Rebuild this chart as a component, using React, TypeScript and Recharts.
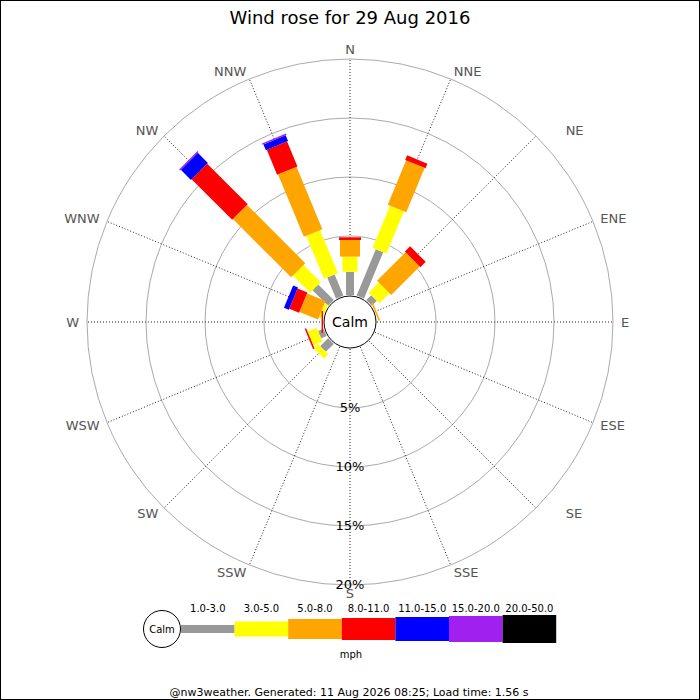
import React from 'react';
import {
  RadialBarChart,
  RadialBar,
  PolarAngleAxis,
  PolarRadiusAxis,
  PolarGrid,
  Customized,
} from 'recharts';

const directions = ['N', 'NNE', 'NE', 'ENE', 'E', 'ESE', 'SE', 'SSE', 'S', 'SSW', 'SW', 'WSW', 'W', 'WNW', 'NW', 'NNW'];
const speedBands = ['1.0-3.0', '3.0-5.0', '5.0-8.0', '8.0-11.0', '11.0-15.0', '15.0-20.0', '20.0-50.0'];
const bandColors = ['#999999', '#ffff00', '#ffa500', '#ff0000', '#0000ff', '#a020f0', '#000000'];

// % of the day per direction, one array per speed band (mph)
const band1 = [1.97, 4.25, 0.59, 0, 0, 0, 0, 0, 0, 0, 0.95, 0.5, 0, 0, 1.86, 1.94];
const band2 = [1.28, 3.87, 1.21, 0, 0, 0, 0, 0, 0, 0, 0.5, 0.85, 0, 0.3, 2.06, 3.94];
const band3 = [1.41, 4.07, 3.42, 0.12, 0, 0, 0, 0, 0, 0, 0, 0, 0, 1.7, 6.98, 5.72];
const band4 = [0.23, 0.42, 0.63, 0, 0, 0, 0, 0, 0, 0, 0, 0.13, 0.12, 0.9, 4.86, 2.29];
const band5 = [0, 0, 0, 0, 0, 0, 0, 0, 0, 0, 0, 0, 0, 0.45, 1.21, 0.53];
const band6 = [0, 0, 0, 0, 0, 0, 0, 0, 0, 0, 0, 0, 0, 0, 0.12, 0.12];
const band7 = [0, 0, 0, 0, 0, 0, 0, 0, 0, 0, 0, 0, 0, 0, 0, 0];

const radiusTicks = [5, 10, 15, 20];

const bands = [band1, band2, band3, band4, band5, band6, band7];
const barWidths = [8, 15, 20, 22, 24, 26, 28];

const CX = 350;
const CY = 322;
const INNER = 27;
const OUTER = 263;
const FONT = '"DejaVu Sans", sans-serif';

const data = directions.map((dir, i) => {
  const row: Record<string, any> = { dir };
  bands.forEach((b, k) => {
    row[`b${k}`] = b[i];
  });
  return row;
});

// straight bar of fixed width; with no category gap recharts starts each
// sector exactly on the category's tick angle, so that is the direction
const makeShape = (w: number) => (props: any) => {
  const { cx, cy, innerRadius, outerRadius, startAngle, fill } = props;
  if (!(outerRadius - innerRadius > 0.01)) return <g />;
  const a = (startAngle * Math.PI) / 180;
  const ux = Math.cos(a);
  const uy = -Math.sin(a);
  const px = (-uy * w) / 2;
  const py = (ux * w) / 2;
  const pts = [
    [innerRadius, 1],
    [outerRadius, 1],
    [outerRadius, -1],
    [innerRadius, -1],
  ]
    .map(([r, s]) => `${cx + ux * r + s * px},${cy + uy * r + s * py}`)
    .join(' ');
  return <polygon points={pts} fill={fill} />;
};

// the original sits NE / SE a bit further out than the rest
const labelNudge: Record<string, number> = { NE: 24, SE: 24, N: -2 };

const DirTick = (props: any) => {
  const { x, y, payload } = props;
  const dx = x - CX;
  const anchor = Math.abs(dx) < 2 ? 'middle' : dx > 0 ? 'start' : 'end';
  const n = labelNudge[payload.value] || 0;
  const isVertical = payload.value === 'N' || payload.value === 'S';
  return (
    <text
      x={isVertical ? x : x + n}
      y={isVertical ? y + n : y}
      textAnchor={anchor}
      dominantBaseline="central"
      fontSize={13}
      fill="#555"
      fontFamily={FONT}
    >
      {payload.value}
    </text>
  );
};

const RingTick = (props: any) => {
  const { x, y, payload } = props;
  return (
    <text x={x} y={y - 1} textAnchor="middle" dominantBaseline="central" fontSize={13} fill="#000" fontFamily={FONT}>
      {`${payload.value}%`}
    </text>
  );
};

const Calm = () => (
  <g>
    <circle cx={CX} cy={CY} r={INNER - 1} fill="#fff" stroke="#000" strokeWidth={1} />
    <text x={CX} y={CY} textAnchor="middle" dominantBaseline="central" fontSize={14} fontFamily={FONT} fill="#000">
      Calm
    </text>
  </g>
);

const Legend = () => {
  const x0 = 181;
  const step = 53.6;
  const ly = 629;
  return (
    <g fontFamily={FONT}>
      <circle cx={162} cy={ly} r={18.5} fill="#fff" stroke="#000" />
      <text x={162} y={ly} textAnchor="middle" dominantBaseline="central" fontSize={10}>
        Calm
      </text>
      {speedBands.map((label, k) => (
        <g key={label}>
          <rect x={x0 + k * step} y={ly - barWidths[k] / 2} width={step} height={barWidths[k]} fill={bandColors[k]} />
          <text x={x0 + k * step + step / 2} y={608} textAnchor="middle" dominantBaseline="central" fontSize={10}>
            {label}
          </text>
        </g>
      ))}
      <text x={351} y={654} textAnchor="middle" dominantBaseline="central" fontSize={10}>
        mph
      </text>
    </g>
  );
};

export default function App() {
  return (
    <div style={{ position: 'relative', width: 700, height: 700, background: '#fff' }}>
      <style>{'body{margin:0}'}</style>
      <RadialBarChart
        width={700}
        height={700}
        data={data}
        layout="centric"
        cx={CX}
        cy={CY}
        innerRadius={INNER}
        outerRadius={OUTER}
        startAngle={90}
        endAngle={-270}
        barCategoryGap={0}
        margin={{ top: 0, right: 0, bottom: 0, left: 0 }}
      >
        <PolarGrid gridType="circle" radialLines={false} stroke="#aaa" />
        <PolarGrid gridType="circle" polarRadius={[]} stroke="#222" strokeDasharray="1 2" />
        <PolarAngleAxis dataKey="dir" type="category" tick={<DirTick />} tickLine={false} axisLine={false} tickSize={8} />
        <PolarRadiusAxis
          type="number"
          domain={[0, 20]}
          ticks={radiusTicks}
          angle={-90}
          axisLine={false}
          tickLine={false}
          tick={<RingTick />}
        />
        {bands.map((_, k) => (
          <RadialBar
            key={k}
            dataKey={`b${k}`}
            stackId="a"
            fill={bandColors[k]}
            shape={makeShape(barWidths[k])}
            isAnimationActive={false}
          />
        ))}
        <Customized component={<Calm />} />
      </RadialBarChart>
      <svg width={700} height={700} style={{ position: 'absolute', left: 0, top: 0, pointerEvents: 'none' }}>
        <text x={350} y={17} textAnchor="middle" dominantBaseline="central" fontSize={18} fontFamily={FONT} fill="#000">
          Wind rose for 29 Aug 2016
        </text>
        <Legend />
        <text x={349} y={692} textAnchor="middle" dominantBaseline="central" fontSize={11} fontFamily={FONT} fill="#000">
          @nw3weather. Generated: 11 Aug 2026 08:25; Load time: 1.56 s
        </text>
        <rect x={0.5} y={0.5} width={699} height={699} fill="none" stroke="#000" />
      </svg>
    </div>
  );
}
